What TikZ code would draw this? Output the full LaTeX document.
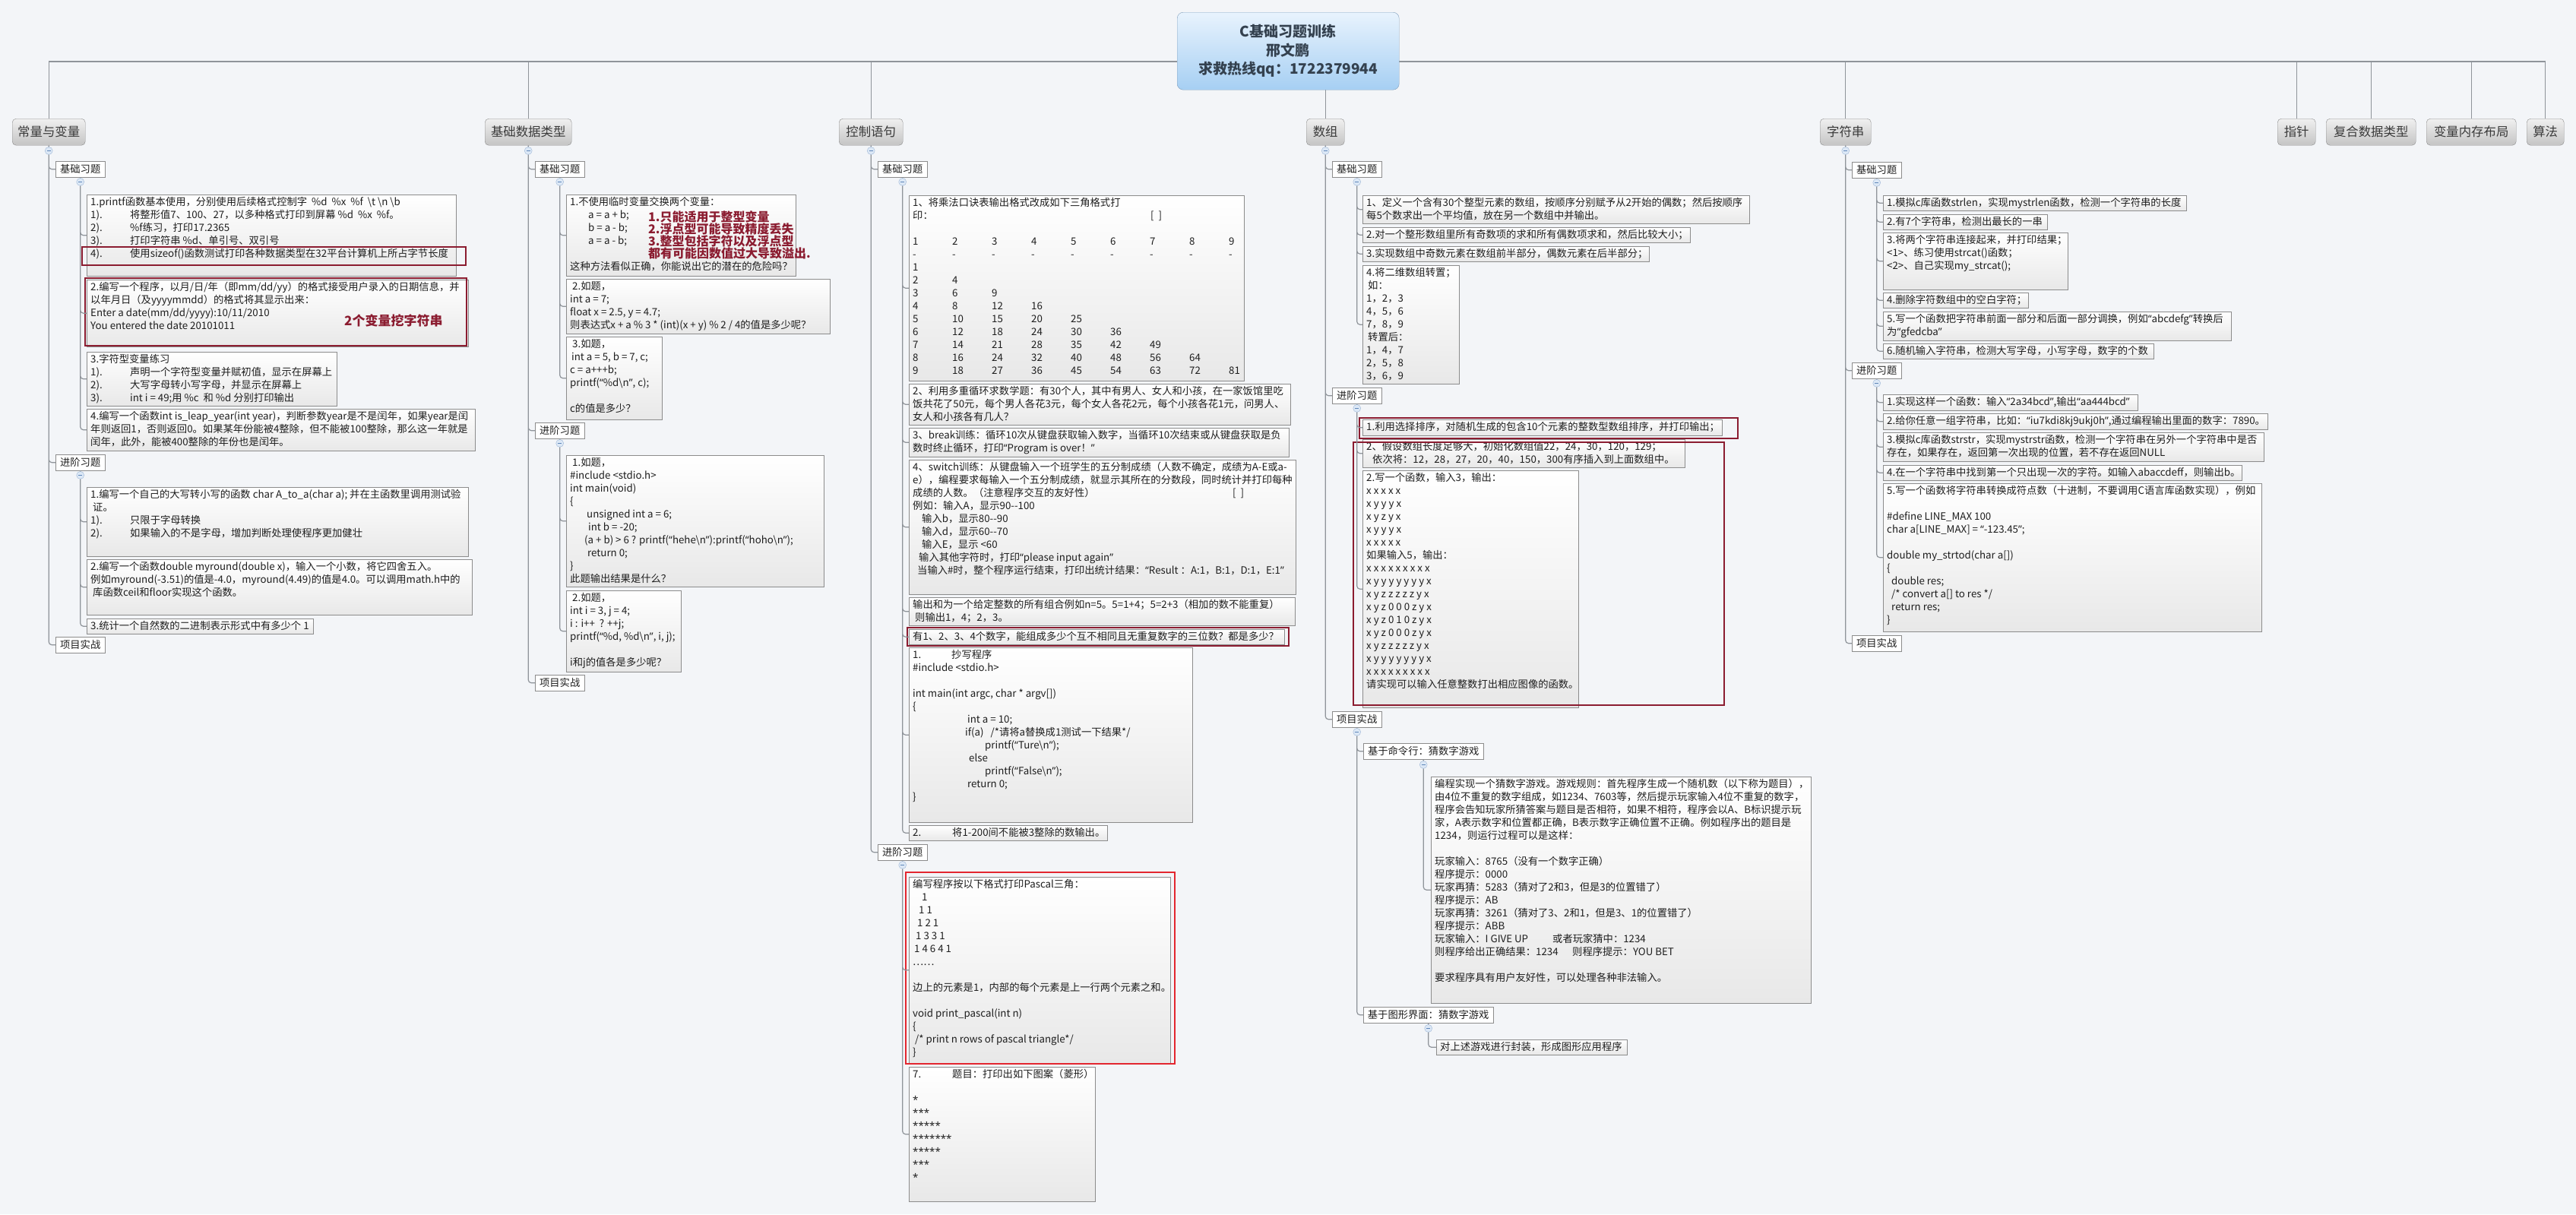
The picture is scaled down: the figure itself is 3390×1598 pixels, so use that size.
\documentclass[tikz,border=0pt]{standalone}
\usepackage{fontspec}
\setmainfont{Noto Sans CJK SC}
\newfontfamily\quotefont{Noto Sans}

\definecolor{bgcol}{HTML}{F3F5F8}
\definecolor{linecol}{HTML}{8F949A}
\definecolor{boxline}{HTML}{8C8C8C}
\definecolor{boxbot}{HTML}{E8E8E8}
\definecolor{topicline}{HTML}{8A8A8A}
\definecolor{topictop}{HTML}{F0F0F0}
\definecolor{topicbot}{HTML}{C4C4C4}
\definecolor{topictext}{HTML}{3A3A3A}
\definecolor{bodytext}{HTML}{1E1E1E}
\definecolor{darkred}{HTML}{8B1C30}
\definecolor{brightred}{HTML}{E3262F}
\definecolor{titletop}{HTML}{E8F3FD}
\definecolor{titlebot}{HTML}{A6CFF3}
\definecolor{titleline}{HTML}{7F9DBA}
\definecolor{titletext}{HTML}{34414F}
\definecolor{toggleline}{HTML}{9DB6D6}
\definecolor{togglefill}{HTML}{DCE8F6}
\definecolor{togglemark}{HTML}{5F86B8}

\newcommand{\bodyfont}{\fontsize{13.3}{17}\selectfont}
\newcommand{\topicfont}{\fontsize{16.4}{20}\selectfont}
\newcommand{\notefont}{\bfseries\fontsize{16}{16.2}\selectfont}
\newcommand{\titlefont}{\bfseries\fontsize{19}{24.5}\selectfont}
\newcommand{\tabit}[2]{\makebox[52pt][l]{#1}#2}
\newcommand{\mcol}[1]{\makebox[52pt][l]{#1}}
\newcommand{\ql}{{\quotefont “}}
\newcommand{\qr}{{\quotefont ”}}
\newcommand{\stars}[1]{{\quotefont #1}}
\newcommand{\tmark}{\textcolor{togglemark}{\rule{5pt}{1pt}}}

\tikzset{
  conn/.style={draw=linecol, line width=1.2pt, rounded corners=4pt},
  topic/.style={anchor=north west, rounded corners=5pt, draw=topicline, top color=topictop, bottom color=topicbot, minimum height=35pt, inner sep=0pt, font=\topicfont, text=topictext},
  subbox/.style={anchor=north west, draw=boxline, fill=white, minimum width=65pt, minimum height=21pt, inner sep=0pt, font=\bodyfont, text=bodytext},
  cbox/.style={anchor=north west, draw=boxline, top color=white, bottom color=boxbot, inner sep=0pt},
  txt/.style={anchor=north west, align=left, inner sep=0pt, font=\bodyfont, text=bodytext},
  toggle/.style={circle, draw=toggleline, fill=togglefill, minimum size=10pt, inner sep=0pt},
  redmark/.style={draw=darkred, line width=1.6pt},
  brightmark/.style={draw=brightred, line width=1.6pt},
  rednote/.style={anchor=north west, align=left, inner sep=0pt, font=\notefont, text=darkred},
  titlebox/.style={anchor=north west, rounded corners=8pt, draw=titleline, top color=titletop, bottom color=titlebot, align=center, font=\titlefont, text=titletext}
}

% 内容框：名称、x、y、宽、高、文字
\newcommand{\tbox}[6]{%
  \node[cbox, minimum width=#4pt, minimum height=#5pt] (#1) at (#2,#3) {};
  \node[txt] (#1t) at ([xshift=5pt,yshift=-3pt]#1.north west) {#6};}

\begin{document}
\begin{tikzpicture}[x=1pt, y=-1pt]
\fill[bgcol] (0,0) rectangle (3390,1598);
\useasboundingbox (0,0) rectangle (3390,1598);
\coordinate (bus) at (0,81);

% 主题
\node[topic, minimum width=96pt] (t1) at (16,156) {常量与变量};
\node[topic, minimum width=114pt] (t2) at (638,156) {基础数据类型};
\node[topic, minimum width=84pt] (t3) at (1104,156) {控制语句};
\node[topic, minimum width=50pt] (t4) at (1719,156) {数组};
\node[topic, minimum width=67pt] (t5) at (2395,156) {字符串};
\node[topic, minimum width=50pt] (t6) at (2997,156) {指针};
\node[topic, minimum width=118pt] (t7) at (3061,156) {复合数据类型};
\node[topic, minimum width=118pt] (t8) at (3193,156) {变量内存布局};
\node[topic, minimum width=49pt] (t9) at (3325,156) {算法};

% 分组
\node[subbox] (s1a) at (73,212) {基础习题};
\node[subbox] (s1b) at (73,598) {进阶习题};
\node[subbox] (s1c) at (73,838) {项目实战};
\node[subbox] (s2a) at (704,212) {基础习题};
\node[subbox] (s2b) at (704,556) {进阶习题};
\node[subbox] (s2c) at (704,888) {项目实战};
\node[subbox] (s3a) at (1155,212) {基础习题};
\node[subbox] (s3b) at (1155,1111) {进阶习题};
\node[subbox] (s4a) at (1753,212) {基础习题};
\node[subbox] (s4b) at (1753,510) {进阶习题};
\node[subbox] (s4c) at (1753,936) {项目实战};
\node[subbox, minimum width=158pt] (g1) at (1794,978) {基于命令行：猜数字游戏};
\node[subbox, minimum width=171pt] (g2) at (1794,1325) {基于图形界面：猜数字游戏};
\node[subbox] (s5a) at (2437,213) {基础习题};
\node[subbox] (s5b) at (2437,477) {进阶习题};
\node[subbox] (s5c) at (2437,836) {项目实战};

% 常量与变量
\tbox{cv1}{114}{256}{486}{107}{1.printf函数基本使用，分别使用后续格式控制字 \ \%d \ \%x \ \%f \ \textbackslash t \textbackslash n \textbackslash b\\
\tabit{1).}{将整形值7、100、27，以多种格式打印到屏幕 \%d \ \%x \ \%f。}\\
\tabit{2).}{\%f练习，打印17.2365}\\
\tabit{3).}{打印字符串 \%d、单引号、双引号}\\
\tabit{4).}{使用sizeof()函数测试打印各种数据类型在32平台计算机上所占字节长度}}
\draw[redmark] (108,325) rectangle (613,349);
\tbox{cv2}{114}{368}{502}{88}{2.编写一个程序，以月/日/年（即mm/dd/yy）的格式接受用户录入的日期信息，并\\
以年月日（及yyyymmdd）的格式将其显示出来：\\
Enter a date(mm/dd/yyyy):10/11/2010\\
You entered the date 20101011}
\draw[redmark] (112,366) rectangle (614,455);
\node[rednote, anchor=west, font=\bfseries\fontsize{17}{17}\selectfont] (cv2n) at (453,422) {2个变量挖字符串};
\tbox{cv3}{114}{463}{329}{71}{3.字符型变量练习\\
\tabit{1).}{声明一个字符型变量并赋初值，显示在屏幕上}\\
\tabit{2).}{大写字母转小写字母，并显示在屏幕上}\\
\tabit{3).}{int i = 49;用 \%c \ 和 \%d 分别打印输出}}
\tbox{cv4}{114}{538}{511}{55}{4.编写一个函数int is\_leap\_year(int year)，判断参数year是不是闰年，如果year是闰\\
年则返回1，否则返回0。如果某年份能被4整除，但不能被100整除，那么这一年就是\\
闰年，此外，能被400整除的年份也是闰年。}
\tbox{cv5}{114}{641}{502}{91}{1.编写一个自己的大写转小写的函数 char A\_to\_a(char a); 并在主函数里调用测试验\\
\hspace{3pt}证。\\
\tabit{1).}{只限于字母转换}\\
\tabit{2).}{如果输入的不是字母，增加判断处理使程序更加健壮}}
\tbox{cv6}{114}{736}{507}{73}{2.编写一个函数double myround(double x)，输入一个小数，将它四舍五入。\\
例如myround(-3.51)的值是-4.0，myround(4.49)的值是4.0。可以调用math.h中的\\
\hspace{3pt}库函数ceil和floor实现这个函数。}
\tbox{cv7}{114}{814}{298}{20}{3.统计一个自然数的二进制表示形式中有多少个 1}

% 基础数据类型
\tbox{dt1}{745}{256}{302}{107}{1.不使用临时变量交换两个变量：\\
\hspace{24pt}a = a + b;\\
\hspace{24pt}b = a - b;\\
\hspace{24pt}a = a - b;\\
\mbox{}\\
这种方法看似正确，你能说出它的潜在的危险吗？}
\node[rednote] (dt1n) at (853,277) {1.只能适用于整型变量\\2.浮点型可能导致精度丢失\\3.整型包括字符以及浮点型\\都有可能因数值过大导致溢出.};
\tbox{dt2}{745}{367}{347}{72}{\hspace{3pt}2.如题，\\
int a = 7;\\
float x = 2.5, y = 4.7;\\
则表达式x + a \% 3 * (int)(x + y) \% 2 / 4的值是多少呢？}
\tbox{dt3}{745}{443}{126}{109}{\hspace{3pt}3.如题，\\
\hspace{2pt}int a = 5, b = 7, c;\\
c = a+++b;\\
printf(\ql\%d\textbackslash n\qr, c);\\
\mbox{}\\
c的值是多少？}
\tbox{dt4}{745}{599}{339}{173}{\hspace{3pt}1.如题，\\
\#include <stdio.h>\\
int main(void)\\
\{\\
\hspace{22pt}unsigned int a = 6;\\
\hspace{24pt}int b = -20;\\
\hspace{19pt}(a + b) > 6 ? printf(\ql hehe\textbackslash n\qr):printf(\ql hoho\textbackslash n\qr);\\
\hspace{23pt}return 0;\\
\}\\
此题输出结果是什么？}
\tbox{dt5}{745}{777}{151}{107}{\hspace{3pt}2.如题，\\
int i = 3, j = 4;\\
i : i++ \ ? ++j;\\
printf(\ql\%d, \%d\textbackslash n\qr, i, j);\\
\mbox{}\\
i和j的值各是多少呢？}

% 控制语句
\tbox{cs1}{1196}{257}{441}{244}{1、将乘法口诀表输出格式改成如下三角格式打\\
\makebox[313pt][l]{印：}[ \ ]\\
\mbox{}\\
\mcol{1}\mcol{2}\mcol{3}\mcol{4}\mcol{5}\mcol{6}\mcol{7}\mcol{8}9\\
\mcol{-}\mcol{-}\mcol{-}\mcol{-}\mcol{-}\mcol{-}\mcol{-}\mcol{-}-\\
\mcol{1}\\
\mcol{2}\mcol{4}\\
\mcol{3}\mcol{6}\mcol{9}\\
\mcol{4}\mcol{8}\mcol{12}\mcol{16}\\
\mcol{5}\mcol{10}\mcol{15}\mcol{20}\mcol{25}\\
\mcol{6}\mcol{12}\mcol{18}\mcol{24}\mcol{30}\mcol{36}\\
\mcol{7}\mcol{14}\mcol{21}\mcol{28}\mcol{35}\mcol{42}\mcol{49}\\
\mcol{8}\mcol{16}\mcol{24}\mcol{32}\mcol{40}\mcol{48}\mcol{56}\mcol{64}\\
\mcol{9}\mcol{18}\mcol{27}\mcol{36}\mcol{45}\mcol{54}\mcol{63}\mcol{72}81}
\tbox{cs2}{1196}{505}{502}{54}{2、利用多重循环求数学题：有30个人，其中有男人、女人和小孩，在一家饭馆里吃\\
饭共花了50元，每个男人各花3元，每个女人各花2元，每个小孩各花1元，问男人、\\
女人和小孩各有几人？}
\tbox{cs3}{1196}{563}{500}{38}{3、break训练：循环10次从键盘获取输入数字，当循环10次结束或从键盘获取是负\\
数时终止循环，打印\ql Program is over！\qr}
\tbox{cs4}{1196}{605}{509}{177}{4、switch训练：从键盘输入一个班学生的五分制成绩（人数不确定，成绩为A-E或a-\\
e），编程要求每输入一个五分制成绩，就显示其所在的分数段，同时统计并打印每种\\
\makebox[421pt][l]{成绩的人数。（注意程序交互的友好性）}[ \ ]\\
例如：输入A，显示90{-}{-}100\\
\hspace{12pt}输入b，显示80{-}{-}90\\
\hspace{12pt}输入d，显示60{-}{-}70\\
\hspace{12pt}输入E，显示 <60\\
\hspace{8pt}输入其他字符时，打印\ql please input again\qr\\
\hspace{6pt}当输入\#时，整个程序运行结束，打印出统计结果：\ql Result ：A:1，B:1，D:1，E:1\qr}
\tbox{cs5}{1196}{786}{508}{37}{输出和为一个给定整数的所有组合例如n=5。5=1+4；5=2+3（相加的数不能重复）\\
\hspace{3pt}则输出1，4；2，3。}
\tbox{cs6}{1196}{828}{494}{20}{有1、2、3、4个数字，能组成多少个互不相同且无重复数字的三位数？都是多少？}
\draw[redmark] (1194,826) rectangle (1696,850);
\tbox{cs7}{1196}{852}{373}{230}{\makebox[51pt][l]{1.}抄写程序\\
\#include <stdio.h>\\
\mbox{}\\
int main(int argc, char * argv[])\\
\{\\
\hspace{72pt}int a = 10;\\
\hspace{69pt}if(a) \ \ /*请将a替换成1测试一下结果*/\\
\hspace{95pt}printf(\ql Ture\textbackslash n\qr);\\
\hspace{74pt}else\\
\hspace{95pt}printf(\ql False\textbackslash n\qr);\\
\hspace{72pt}return 0;\\
\}}
\tbox{cs8}{1196}{1086}{261}{20}{\makebox[52pt][l]{2.}将1-200间不能被3整除的数输出。}
\tbox{cs9}{1196}{1154}{344}{245}{编写程序按以下格式打印Pascal三角：\\
\hspace{12pt}1\\
\hspace{8pt}1 1\\
\hspace{6pt}1 2 1\\
\hspace{4pt}1 3 3 1\\
\hspace{2pt}1 4 6 4 1\\
……\\
\mbox{}\\
边上的元素是1，内部的每个元素是上一行两个元素之和。\\
\mbox{}\\
void print\_pascal(int n)\\
\{\\
\hspace{3pt}/* print n rows of pascal triangle*/\\
\}}
\draw[brightmark] (1192,1148) rectangle (1546,1400);
\tbox{cs10}{1196}{1404}{245}{177}{\makebox[52pt][l]{7.}题目：打印出如下图案（菱形）\\
\mbox{}\\
\stars{*}\\
\stars{***}\\
\stars{*****}\\
\stars{*******}\\
\stars{*****}\\
\stars{***}\\
\stars{*}}

% 数组
\tbox{ar1}{1793}{257}{509}{37}{1、定义一个含有30个整型元素的数组，按顺序分别赋予从2开始的偶数；然后按顺序\\
每5个数求出一个平均值，放在另一个数组中并输出。}
\tbox{ar2}{1793}{299}{431}{20}{2.对一个整形数组里所有奇数项的求和所有偶数项求和，然后比较大小；}
\tbox{ar3}{1793}{324}{377}{20}{3.实现数组中奇数元素在数组前半部分，偶数元素在后半部分；}
\tbox{ar4}{1793}{349}{127}{156}{4.将二维数组转置；\\
\hspace{2pt}如：\\
1，2，3\\
4，5，6\\
7，8，9\\
\hspace{2pt}转置后：\\
1，4，7\\
2，5，8\\
3，6，9}
\tbox{ar5}{1793}{552}{473}{21}{1.利用选择排序，对随机生成的包含10个元素的整数型数组排序，并打印输出；}
\draw[redmark] (1789,550) rectangle (2287,577);
\tbox{ar6}{1793}{578}{424}{37}{2、假设数组长度足够大，初始化数组值22，24，30，120，129；\\
\hspace{8pt}依次将：12，28，27，20，40，150，300有序插入到上面数组中。}
\tbox{ar7}{1793}{619}{284}{312}{2.写一个函数，输入3，输出：\\
x x x x x\\
x y y y x\\
x y z y x\\
x y y y x\\
x x x x x\\
如果输入5，输出：\\
x x x x x x x x x\\
x y y y y y y y x\\
x y z z z z z y x\\
x y z 0 0 0 z y x\\
x y z 0 1 0 z y x\\
x y z 0 0 0 z y x\\
x y z z z z z y x\\
x y y y y y y y x\\
x x x x x x x x x\\
请实现可以输入任意整数打出相应图像的函数。}
\draw[redmark] (1781,582) rectangle (2269,928);
\tbox{gm1}{1883}{1022}{500}{298}{编程实现一个猜数字游戏。游戏规则：首先程序生成一个随机数（以下称为题目），\\
由4位不重复的数字组成，如1234、7603等，然后提示玩家输入4位不重复的数字，\\
程序会告知玩家所猜答案与题目是否相符，如果不相符，程序会以A、B标识提示玩\\
家，A表示数字和位置都正确，B表示数字正确位置不正确。例如程序出的题目是\\
1234，则运行过程可以是这样：\\
\mbox{}\\
玩家输入：8765（没有一个数字正确）\\
程序提示：0000\\
玩家再猜：5283（猜对了2和3，但是3的位置错了）\\
程序提示：AB\\
玩家再猜：3261（猜对了3、2和1，但是3、1的位置错了）\\
程序提示：ABB\\
\makebox[155pt][l]{玩家输入：I GIVE UP}或者玩家猜中：1234\\
\makebox[181pt][l]{则程序给出正确结果：1234}则程序提示：YOU BET\\
\mbox{}\\
要求程序具有用户友好性，可以处理各种非法输入。}
\tbox{gm2}{1890}{1368}{251}{20}{对上述游戏进行封装，形成图形应用程序}

% 字符串
\tbox{st1}{2478}{257}{399}{20}{1.模拟c库函数strlen，实现mystrlen函数，检测一个字符串的长度}
\tbox{st2}{2478}{282}{216}{20}{2.有7个字符串，检测出最长的一串}
\tbox{st3}{2478}{306}{243}{75}{3.将两个字符串连接起来，并打印结果；\\
<1>、练习使用strcat()函数；\\
<2>、自己实现my\_strcat();}
\tbox{st4}{2478}{385}{191}{20}{4.删除字符数组中的空白字符；}
\tbox{st5}{2478}{410}{458}{38}{5.写一个函数把字符串前面一部分和后面一部分调换，例如\ql abcdefg\qr 转换后\\
为\ql gfedcba\qr}
\tbox{st6}{2478}{452}{356}{20}{6.随机输入字符串，检测大写字母，小写字母，数字的个数}
\tbox{st7}{2478}{519}{335}{21}{1.实现这样一个函数：输入\ql 2a34bcd\qr,输出\ql aa444bcd\qr}
\tbox{st8}{2478}{544}{506}{21}{2.给你任意一组字符串，比如：\ql iu7kdi8kj9ukj0h\qr,通过编程输出里面的数字：7890。}
\tbox{st9}{2478}{569}{501}{38}{3.模拟c库函数strstr，实现mystrstr函数，检测一个字符串在另外一个字符串中是否\\
存在，如果存在，返回第一次出现的位置，若不存在返回NULL}
\tbox{st10}{2478}{612}{472}{20}{4.在一个字符串中找到第一个只出现一次的字符。如输入abaccdeff，则输出b。}
\tbox{st11}{2478}{636}{498}{195}{5.写一个函数将字符串转换成符点数（十进制，不要调用C语言库函数实现），例如\\
\mbox{}\\
\#define LINE\_MAX 100\\
char a[LINE\_MAX] = \ql -123.45\qr;\\
\mbox{}\\
double my\_strtod(char a[])\\
\{\\
\hspace{6pt}double res;\\
\hspace{6pt}/* convert a[] to res */\\
\hspace{6pt}return res;\\
\}}

% 连线
\draw[conn] (t1.north |- bus) -- (t9.north |- bus);
\draw[conn] (t1.north) -- (t1.north |- bus) (t2.north) -- (t2.north |- bus) (t3.north) -- (t3.north |- bus) (t4.north) -- (t4.north |- bus) (t5.north) -- (t5.north |- bus) (t6.north) -- (t6.north |- bus) (t7.north) -- (t7.north |- bus) (t8.north) -- (t8.north |- bus) (t9.north) -- (t9.north |- bus);
\draw[conn] (t1.south) |- (s1a.west) (t1.south) |- (s1b.west) (t1.south) |- (s1c.west);
\draw[conn] (s1a.south) |- (cv1.west) (s1a.south) |- (cv2.west) (s1a.south) |- (cv3.west) (s1a.south) |- (cv4.west);
\draw[conn] (s1b.south) |- (cv5.west) (s1b.south) |- (cv6.west) (s1b.south) |- (cv7.west);
\draw[conn] (t2.south) |- (s2a.west) (t2.south) |- (s2b.west) (t2.south) |- (s2c.west);
\draw[conn] (s2a.south) |- (dt1.west) (s2a.south) |- (dt2.west) (s2a.south) |- (dt3.west);
\draw[conn] (s2b.south) |- (dt4.west) (s2b.south) |- (dt5.west);
\draw[conn] (t3.south) |- (s3a.west) (t3.south) |- (s3b.west);
\draw[conn] (s3a.south) |- (cs1.west) (s3a.south) |- (cs2.west) (s3a.south) |- (cs3.west) (s3a.south) |- (cs4.west) (s3a.south) |- (cs5.west) (s3a.south) |- (cs6.west) (s3a.south) |- (cs7.west) (s3a.south) |- (cs8.west);
\draw[conn] (s3b.south) |- (cs9.west) (s3b.south) |- (cs10.west);
\draw[conn] (t4.south) |- (s4a.west) (t4.south) |- (s4b.west) (t4.south) |- (s4c.west);
\draw[conn] (s4a.south) |- (ar1.west) (s4a.south) |- (ar2.west) (s4a.south) |- (ar3.west) (s4a.south) |- (ar4.west);
\draw[conn] (s4b.south) |- (ar5.west) (s4b.south) |- (ar6.west) (s4b.south) |- (ar7.west);
\draw[conn] (s4c.south) |- (g1.west) (s4c.south) |- (g2.west);
\draw[conn] (g1.south) |- (gm1.west);
\draw[conn] (g2.south) |- (gm2.west);
\draw[conn] (t5.south) |- (s5a.west) (t5.south) |- (s5b.west) (t5.south) |- (s5c.west);
\draw[conn] (s5a.south) |- (st1.west) (s5a.south) |- (st2.west) (s5a.south) |- (st3.west) (s5a.south) |- (st4.west) (s5a.south) |- (st5.west) (s5a.south) |- (st6.west);
\draw[conn] (s5b.south) |- (st7.west) (s5b.south) |- (st8.west) (s5b.south) |- (st9.west) (s5b.south) |- (st10.west) (s5b.south) |- (st11.west);

% 折叠按钮
\node[toggle] (o1) at ([yshift=-7pt]t1.south) {\tmark};
\node[toggle] (o2) at ([yshift=-7pt]t2.south) {\tmark};
\node[toggle] (o3) at ([yshift=-7pt]t3.south) {\tmark};
\node[toggle] (o4) at ([yshift=-7pt]t4.south) {\tmark};
\node[toggle] (o5) at ([yshift=-7pt]t5.south) {\tmark};
\node[toggle] (o1a) at ([yshift=-6pt]s1a.south) {\tmark};
\node[toggle] (o1b) at ([yshift=-6pt]s1b.south) {\tmark};
\node[toggle] (o2a) at ([yshift=-6pt]s2a.south) {\tmark};
\node[toggle] (o2b) at ([yshift=-6pt]s2b.south) {\tmark};
\node[toggle] (o3a) at ([yshift=-6pt]s3a.south) {\tmark};
\node[toggle] (o3b) at ([yshift=-6pt]s3b.south) {\tmark};
\node[toggle] (o4a) at ([yshift=-6pt]s4a.south) {\tmark};
\node[toggle] (o4b) at ([yshift=-6pt]s4b.south) {\tmark};
\node[toggle] (o4c) at ([yshift=-6pt]s4c.south) {\tmark};
\node[toggle] (og1) at ([yshift=-7pt]g1.south) {\tmark};
\node[toggle] (og2) at ([yshift=-7pt]g2.south) {\tmark};
\node[toggle] (o5a) at ([yshift=-6pt]s5a.south) {\tmark};
\node[toggle] (o5b) at ([yshift=-6pt]s5b.south) {\tmark};

% 标题
\node[titlebox, minimum width=292pt, minimum height=102pt] (title) at (1549,16) {C基础习题训练\\邢文鹏\\求救热线qq：1722379944};
\end{tikzpicture}
\end{document}
